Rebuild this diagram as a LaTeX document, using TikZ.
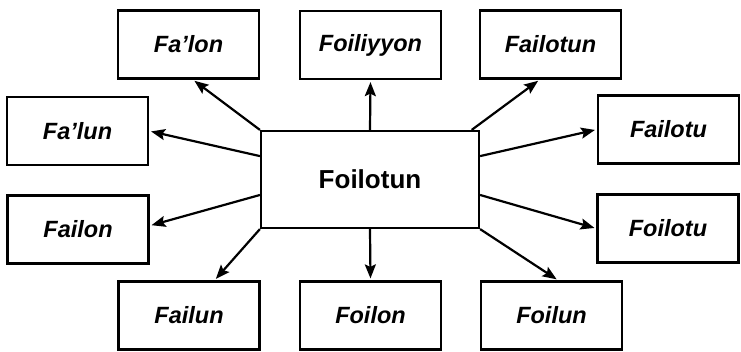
\documentclass[tikz,border=0pt]{standalone}
\usepackage{fontspec}
\setmainfont{Liberation Sans}
\usetikzlibrary{arrows.meta}
\begin{document}
\begin{tikzpicture}[x=1pt,y=-1pt,
  box/.style={draw=black, line width=2.2pt, minimum width=141pt, minimum height=68pt, inner sep=0pt,
    font=\fontsize{23.5}{26}\selectfont\bfseries\itshape},
  mainbox/.style={draw=black, line width=2.2pt, minimum width=218pt, minimum height=97pt, inner sep=0pt,
    font=\fontsize{26}{30}\selectfont\bfseries},
  arr/.style={line width=2.2pt, -{Stealth[length=14pt,width=11pt,inset=2.5pt]}, shorten >=2pt}
]
\useasboundingbox (0,0) rectangle (741,351);
\node[mainbox] (c) at (370,179.5) {Foilotun};
\node[box] (falon) at (188.5,44.5) {Fa’lon};
\node[box] (foiliyyon) at (370.5,45) {Foiliyyon};
\node[box] (failotun) at (550.5,44.5) {Failotun};
\node[box] (falun) at (77.5,131) {Fa’lun};
\node[box] (failotu) at (668.5,129.5) {Failotu};
\node[box] (failon) at (78,229.5) {Failon};
\node[box] (foilotu) at (668,228.5) {Foilotu};
\node[box] (failun) at (189,315.5) {Failun};
\node[box] (foilon) at (370.5,315.5) {Foilon};
\node[box] (foilun) at (551.5,315.5) {Foilun};

\draw[arr] (c.north west) -- (falon.277);
\draw[arr] (c.168) -- (falun.east);
\draw[arr] (c.north) -- (foiliyyon.south);
\draw[arr] (c.26) -- (failotun.253);
\draw[arr] (c.12) -- (failotu.west);
\draw[arr] (c.188) -- (failon.3);
\draw[arr] (c.south west) -- (failun.54);
\draw[arr] (c.south) -- (foilon.north);
\draw[arr] (c.-8) -- (foilotu.west);
\draw[arr] (c.south east) -- (foilun.79);
\end{tikzpicture}
\end{document}
